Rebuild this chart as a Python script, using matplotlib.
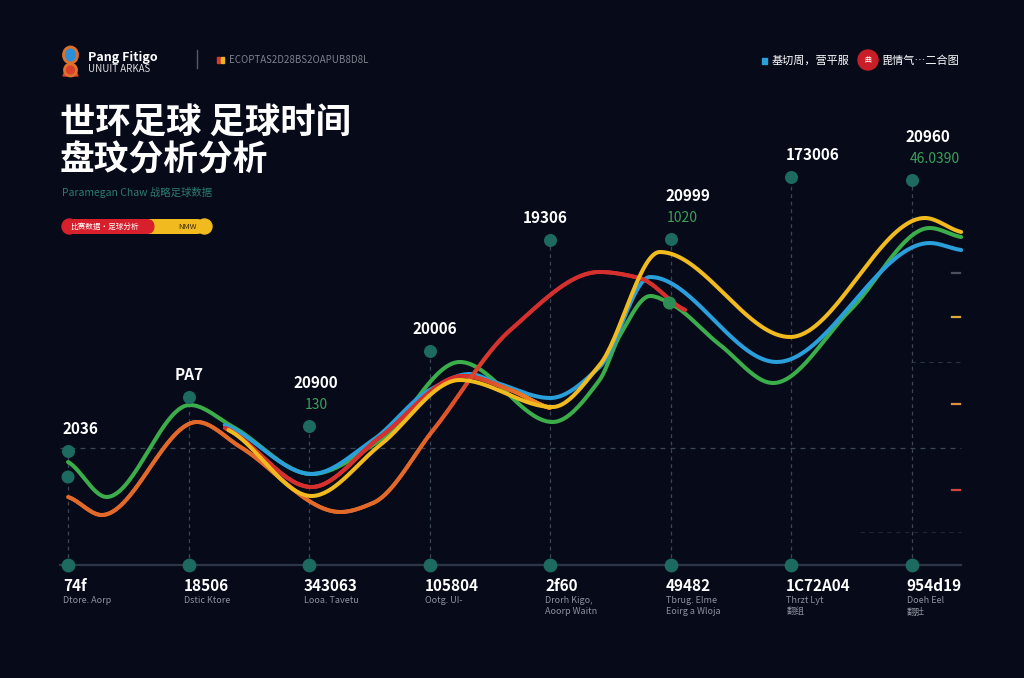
import numpy as np
import matplotlib
matplotlib.use("Agg")
import matplotlib.pyplot as plt
from matplotlib.collections import LineCollection
from matplotlib.patches import FancyBboxPatch, Circle, Ellipse, Polygon, Rectangle
from matplotlib.colors import to_rgb

plt.rcParams['font.family'] = ['Noto Sans CJK SC', 'DejaVu Sans']

# ---------------- data ----------------
categories = list(range(8))
bottom_values = ["74f", "18506", "343063", "105804", "2f60", "49482", "1C72A04", "954d19"]
bottom_notes = ["Dtore. Aorp", "Dstic Ktore", "Looa. Tavetu", "Ootg. UI-",
                "Drorh Kigo,\nAoorp Waitn", "Tbrug. Elme\nEoirg a Wloja",
                "Thrzt Lyt\n翻组", "Doeh Eel\n翻肚"]
peak_values = [114, 168, 139, 214, 325, 326, 388, 385]
peak_labels = ["2036", "PA7", "20900", "20006", "19306", "20999", "173006", "20960"]
peak_sublabels = [None, None, "130", None, None, "1020", None, "46.0390"]

green_x = [0, 0.32, 1.01, 1.37, 2.02, 2.59, 3.25, 4.02, 4.41, 4.58, 4.83, 4.99, 5.41, 5.85, 6.49, 7.15, 7.41]
green_y = [103, 68, 160, 138, 91, 125, 203, 143, 185, 230, 269, 262, 220, 182, 255, 337, 328]

blue_x = [1.30, 2.02, 2.53, 3.0, 3.33, 3.56, 4.0, 4.41, 4.83, 5.88, 7.15, 7.41]
blue_y = [140, 91, 125, 175, 191, 182, 167, 198, 288, 203, 322, 315]

yellow_x = [1.33, 2.02, 2.59, 3.25, 4.02, 4.41, 4.91, 5.99, 7.11, 7.41]
yellow_y = [135, 69, 120, 185, 158, 200, 313, 228, 347, 333]

red_x = [1.30, 2.02, 2.59, 3.28, 3.67, 4.0]
red_y = [137, 78, 128, 189, 175, 157]

orange_x = [0, 0.28, 1.07, 1.43, 2.26, 2.53, 3.03, 3.67, 4.41, 4.74, 5.12]
orange_y = [68, 50, 143, 118, 53, 62, 135, 235, 293, 287, 255]

extra_dots_x = [0, 4.99]
extra_dots_y = [88, 262]

right_ticks_y = [292, 248, 161, 75]
right_ticks_c = ["#4a5262", "#e0a93a", "#e09040", "#d0453e"]

# ---------------- colours ----------------
BG = "#070b19"
GREEN = "#3cad4b"
BLUE = "#2a9fdb"
YELLOW = "#f1bb1f"
RED = "#d5302e"
ORANGE = "#e3692a"
TEAL = "#1d6a60"
GRID = "#3a4557"

# label nudges (pixels)
peak_label_dx = [-6, 1, 7, 5, -5, 17, 21, 16]
peak_sub_dx = [0, 0, 7, 0, 0, 12, 0, 23]


def pchip(x, y, n=400):
    x = np.asarray(x, float); y = np.asarray(y, float)
    h = np.diff(x); delta = np.diff(y) / h
    d = np.zeros_like(y)
    for k in range(1, len(x) - 1):
        if delta[k - 1] * delta[k] <= 0:
            d[k] = 0
        else:
            w1 = 2 * h[k] + h[k - 1]; w2 = h[k] + 2 * h[k - 1]
            d[k] = (w1 + w2) / (w1 / delta[k - 1] + w2 / delta[k])
    d[0] = delta[0] * 0.6
    d[-1] = delta[-1] * 0.6
    xs = np.linspace(x[0], x[-1], n)
    idx = np.clip(np.searchsorted(x, xs) - 1, 0, len(x) - 2)
    t = (xs - x[idx]) / h[idx]
    h00 = 2 * t**3 - 3 * t**2 + 1; h10 = t**3 - 2 * t**2 + t
    h01 = -2 * t**3 + 3 * t**2; h11 = t**3 - t**2
    ys = h00 * y[idx] + h10 * h[idx] * d[idx] + h01 * y[idx + 1] + h11 * h[idx] * d[idx + 1]
    return xs, ys


def gradient_line(ax, xs, ys, c1, c2, x0, x1, lw, z):
    pts = np.column_stack([xs, ys]).reshape(-1, 1, 2)
    segs = np.concatenate([pts[:-1], pts[1:]], axis=1)
    xm = (xs[:-1] + xs[1:]) / 2
    f = np.clip((xm - x0) / (x1 - x0), 0, 1)[:, None]
    cols = (1 - f) * np.array(to_rgb(c1)) + f * np.array(to_rgb(c2))
    lc = LineCollection(segs, colors=cols, linewidths=lw, zorder=z, capstyle='round')
    ax.add_collection(lc)


fig = plt.figure(figsize=(10.24, 6.78), dpi=100, facecolor=BG)
ax = fig.add_axes([56 / 1024, 1 - 585 / 678, (972 - 56) / 1024, (585 - 130) / 678])
ax.set_facecolor(BG)
ax.set_xlim(-0.1, 7.5)
ax.set_ylim(-20, 435)
ax.axis('off')

# grid
ax.plot([-0.07, 7.41], [117, 117], color=GRID, lw=0.9, ls=(0, (4, 4)), zorder=0)
ax.plot([6.99, 7.41], [203, 203], color="#283244", lw=0.8, ls=(0, (4, 4)), zorder=0)
ax.plot([6.57, 7.41], [33, 33], color="#1c2434", lw=0.8, ls=(0, (4, 4)), zorder=0)
for i in categories:
    ax.plot([i, i], [0, peak_values[i]], color=GRID, lw=0.9, ls=(0, (3, 3)), zorder=0)
ax.plot([-0.07, 7.41], [0, 0], color="#2c3648", lw=1.6, zorder=1)

# curves
lw = 2.9
gx, gy = pchip(green_x, green_y)
ax.plot(gx, gy, color=GREEN, lw=lw, zorder=3, solid_capstyle='round')
bx, by = pchip(blue_x, blue_y)
ax.plot(bx, by, color=BLUE, lw=lw, zorder=4, solid_capstyle='round')
rx, ry = pchip(red_x, red_y)
gradient_line(ax, rx, ry, RED, "#ec8a25", 3.3, 3.9, lw, 5)
ox, oy = pchip(orange_x, orange_y)
gradient_line(ax, ox, oy, ORANGE, RED, 2.9, 3.6, lw, 6)
yx, yy = pchip(yellow_x, yellow_y)
ax.plot(yx, yy, color=YELLOW, lw=lw, zorder=7, solid_capstyle='round')

# markers
ax.scatter(categories, [0] * 8, s=80, color=TEAL, zorder=8, clip_on=False)
ax.scatter(categories, peak_values, s=70, color=TEAL, zorder=8)
ax.scatter(extra_dots_x, extra_dots_y, s=70, color=[TEAL, "#2b8f55"], zorder=8)

# right ticks
for yv, c in zip(right_ticks_y, right_ticks_c):
    ax.plot([7.33, 7.40], [yv, yv], color=c, lw=1.6, zorder=2)

# peak labels
for i in categories:
    sub = peak_sublabels[i]
    dy = 43 if sub else 22
    ha = 'left' if i == 0 else 'center'
    ax.annotate(peak_labels[i], (i, peak_values[i]), xytext=(peak_label_dx[i], dy),
                textcoords='offset pixels', ha=ha, va='center', color='white',
                fontsize=11, fontweight='bold', zorder=9)
    if sub:
        ax.annotate(sub, (i, peak_values[i]), xytext=(peak_sub_dx[i], 21), textcoords='offset pixels',
                    ha='center', va='center', color="#3aa05a", fontsize=10, zorder=9)

# bottom labels
for i in categories:
    ax.annotate(bottom_values[i], (i, 0), xytext=(-5, -21), textcoords='offset pixels',
                ha='left', va='center', color='white', fontsize=11, fontweight='bold',
                annotation_clip=False)
    ax.annotate(bottom_notes[i], (i, 0), xytext=(-5, -31), textcoords='offset pixels',
                ha='left', va='top', color="#8c919c", fontsize=6.5, linespacing=1.35,
                annotation_clip=False)

# ---------------- header overlay ----------------
ov = fig.add_axes([0, 0, 1, 1])
ov.set_xlim(0, 1024); ov.set_ylim(678, 0)
ov.axis('off'); ov.patch.set_alpha(0)

# logo
ov.add_patch(Polygon([[63, 76], [78, 76], [73, 64], [68, 64]], closed=True, color="#d8402c"))
ov.add_patch(Ellipse((70.5, 55), 14, 16, fill=True, fc="#2a8fd8", ec="#e0702a", lw=2))
ov.add_patch(Ellipse((70.5, 70), 12, 12, fill=False, ec="#e0702a", lw=2))
ov.text(88, 57, "Pang Fitigo", color='white', fontsize=9, fontweight='bold', va='center', ha='left')
ov.text(88, 69, "UNUIT ARKAS", color='#dddddd', fontsize=7, va='center', ha='left')
ov.plot([197, 197], [50, 68], color="#555b66", lw=1)
ov.add_patch(Rectangle((217, 57), 3, 6, color="#d43a2a"))
ov.add_patch(Rectangle((221, 57), 3, 6, color="#e8b820"))
ov.text(229, 60, "ECOPTAS2D28BS2OAPUB8D8L", color="#7c818c", fontsize=7, va='center', ha='left')

# top right
ov.add_patch(Rectangle((762, 58), 5, 6, color="#2a9fdb"))
ov.text(772, 61, "基切周，营平服", color='white', fontsize=8, va='center', ha='left')
ov.add_patch(Circle((868, 60), 10, color="#c81e28"))
ov.text(868, 60, "曲", color='white', fontsize=5, va='center', ha='center')
ov.text(882, 61, "毘情气…二合图", color='white', fontsize=8, va='center', ha='left')

# title
ov.text(60, 122, "世环足球 足球时间", color='white', fontsize=25.5, fontweight='bold', va='center', ha='left')
ov.text(60, 160, "盘玟分析分析", color='white', fontsize=25, fontweight='bold', va='center', ha='left')
ov.text(62, 193, "Paramegan Chaw 战略足球数据", color="#2b7a6d", fontsize=7.5, va='center', ha='left')

# pill
ov.add_patch(FancyBboxPatch((62 + 7.5, 219), 150 - 15, 15, boxstyle="round,pad=0,rounding_size=7.5",
                            fc=YELLOW, ec='none'))
ov.add_patch(FancyBboxPatch((62 + 7.5, 219), 100 - 15, 15, boxstyle="round,pad=0,rounding_size=7.5",
                            fc="#d81f2c", ec='none'))
ov.add_patch(Circle((69.5, 226.5), 7.5, color="#d81f2c"))
ov.add_patch(Circle((204.5, 226.5), 7.5, color=YELLOW))
ov.text(70, 227, "比赛数据·足球分析", color='white', fontsize=5.5, va='center', ha='left')
ov.text(178, 227, "NMW", color="#3a2a05", fontsize=5.5, va='center', ha='left')

fig.savefig("out.png", dpi=100, facecolor=BG)
